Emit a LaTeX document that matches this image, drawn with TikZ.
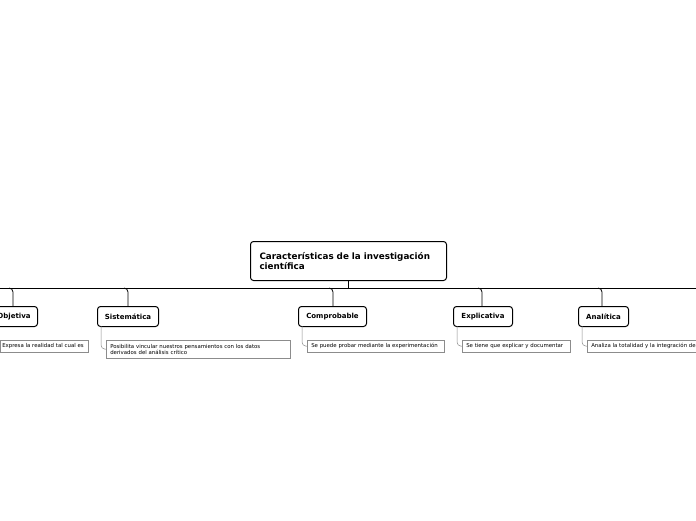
\documentclass[tikz,border=0pt]{standalone}
\usepackage{fontspec}
\setmainfont{DejaVu Sans}
\begin{document}
\begin{tikzpicture}[x=1pt,y=-1pt,
 topic/.style={draw=black,line width=1pt,rounded corners=3pt,fill=white,anchor=north west,inner xsep=0pt,inner ysep=0pt,font=\fontsize{7}{8}\selectfont\bfseries,align=center},
 leaf/.style={draw=black!45,line width=0.5pt,fill=white,anchor=north west,inner xsep=4pt,inner ysep=0pt,font=\fontsize{5.4}{6.2}\selectfont,align=left},
 main/.style={line width=0.8pt,rounded corners=4pt},
 sub/.style={draw=black!45,line width=0.5pt,rounded corners=4pt}]
\useasboundingbox (0,0) rectangle (696,520);
\fill[white] (0,0) rectangle (696,520);
\node[topic,minimum width=196pt,minimum height=39pt,align=left,font=\fontsize{8.8}{10}\selectfont\bfseries,text width=178pt] (root) at (250,241) {Características de la investigación\\científica};
\coordinate (h) at (348,288);
\draw[line width=0.8pt] (root.south -| h) -- (h);
\draw[line width=0.8pt] (-5,288) -- (701,288);
\foreach \n/\x/\w/\cx/\t in {o/-10/47/13/Objetiva, s/97/61/128/Sistemática, c/298/68/333/Comprobable, e/453/59/482/Explicativa, a/578/50/602/Analítica}{
  \node[topic,minimum width=\w pt,minimum height=20pt] (\n) at (\x,306) {\t};
  \draw[main] (\cx-4,288) -- (\cx,288) -- (\cx,306);
}
\node[leaf,inner xsep=2pt,text width=84pt,minimum height=12pt] (lo) at (0,340) {Expresa la realidad tal cual es};
\node[leaf,text width=176pt,minimum height=18pt] (ls) at (106,340) {Posibilita vincular nuestros pensamientos con los datos\\derivados del análisis crítico};
\node[leaf,text width=129pt,minimum height=12pt] (lc) at (307,340) {Se puede probar mediante la experimentación};
\node[leaf,text width=100pt,minimum height=12pt] (le) at (462,340) {Se tiene que explicar y documentar};
\node[leaf,text width=130pt,minimum height=12pt] (la) at (587,340) {Analiza la totalidad y la integración de};
\draw[sub] (101,326) -- (101,349) -- (ls.west);
\draw[sub] (302,326) -- (302,346) -- (lc.west);
\draw[sub] (457,326) -- (457,346) -- (le.west);
\draw[sub] (582,326) -- (582,346) -- (la.west);
\end{tikzpicture}
\end{document}
